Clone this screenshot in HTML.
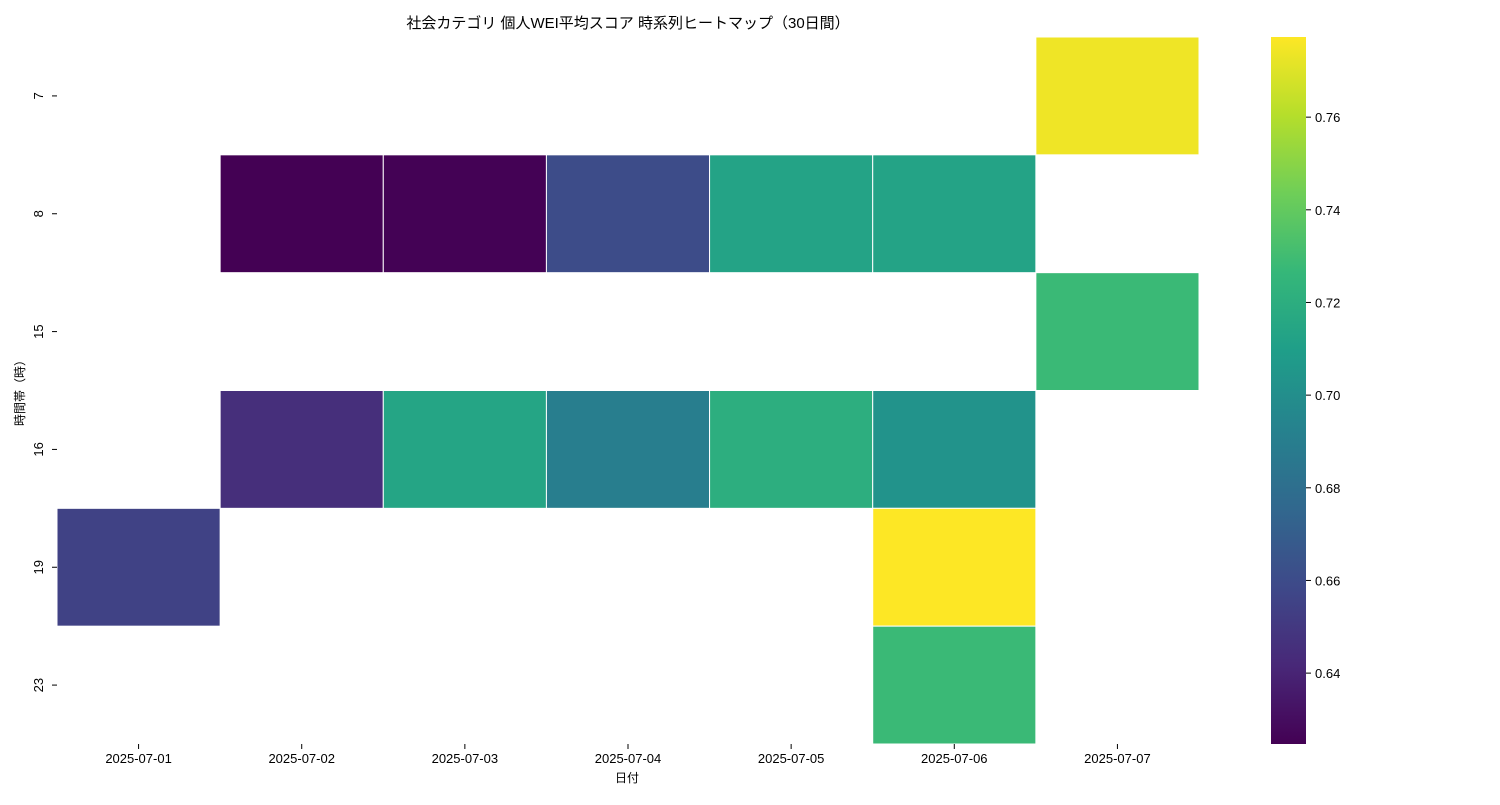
<!DOCTYPE html>
<html><head><meta charset="utf-8"><style>
body{margin:0;background:#fff;}
svg{font-family:"Liberation Sans","Noto Sans CJK JP",sans-serif;}
</style></head><body>
<svg id="chart" width="1500" height="800">
<text x="628" y="28" text-anchor="middle" font-size="15" fill="#000">社会カテゴリ 個人WEI平均スコア 時系列ヒートマップ（30日間）</text>
<text x="627" y="782" text-anchor="middle" font-size="12">日付</text>
<text transform="translate(24,390) rotate(-90)" text-anchor="middle" font-size="12">時間帯（時）</text>
<g id="cells"></g><g id="xt"></g><g id="yt"></g>
<defs><linearGradient id="cg" x1="0" y1="1" x2="0" y2="0" id2="x"></linearGradient></defs>
<rect x="1271" y="37" width="35" height="707" fill="url(#cg)"/>
<g id="ct"></g>
</svg>
<script>
const dates=["2025-07-01","2025-07-02","2025-07-03","2025-07-04","2025-07-05","2025-07-06","2025-07-07"];
const hours=["7","8","15","16","19","23"];
// values[row][col], null = no data
const values=[
[null,null,null,null,null,null,0.774],
[null,0.6247,0.625,0.660,0.713,0.713,null],
[null,null,null,null,null,null,0.728],
[null,0.645,0.714,0.690,0.720,0.703,null],
[0.655,null,null,null,null,0.7773,null],
[null,null,null,null,null,0.728,null]];
const cbTicks=[0.64,0.66,0.68,0.70,0.72,0.74,0.76];
const vmin=0.6247,vmax=0.7773;
const X0=57,X1=1199,Y0=37,Y1=744;
const cw=(X1-X0)/dates.length,ch=(Y1-Y0)/hours.length;
const vir=["#440154","#482878","#3e4989","#31688e","#26828e","#1f9e89","#35b779","#6ece58","#b5de2b","#fde725"];
function hex(h){return [1,3,5].map(i=>parseInt(h.substr(i,2),16));}
function color(v){let t=Math.max(0,Math.min(1,(v-vmin)/(vmax-vmin)))*(vir.length-1);let i=Math.min(Math.floor(t),vir.length-2),f=t-i;const a=hex(vir[i]),b=hex(vir[i+1]);return`rgb(${a.map((c,k)=>Math.round(c+(b[k]-c)*f)).join(",")})`;}
const NS="http://www.w3.org/2000/svg";
function mk(t,at,p){const e=document.createElementNS(NS,t);for(const k in at)e.setAttribute(k,at[k]);p.appendChild(e);return e;}
const cells=document.getElementById("cells");
values.forEach((row,r)=>row.forEach((v,c)=>{if(v==null)return;
const e=mk("rect",{x:X0+c*cw,y:Y0+r*ch,width:cw,height:ch,fill:color(v),stroke:"#fff","stroke-width":1},cells);

}));
const xt=document.getElementById("xt");
dates.forEach((d,i)=>{const x=X0+(i+0.5)*cw;mk("line",{x1:x,x2:x,y1:744,y2:749,stroke:"#000"},xt);
const t=mk("text",{x:x,y:763,"text-anchor":"middle","font-size":13},xt);t.textContent=d;

});
const yt=document.getElementById("yt");
hours.forEach((h,i)=>{const y=Y0+(i+0.5)*ch;mk("line",{x1:52,x2:57,y1:y,y2:y,stroke:"#000"},yt);
const t=mk("text",{transform:`translate(43,${y}) rotate(-90)`,"text-anchor":"middle","font-size":13},yt);t.textContent=h;

});
const g=document.getElementById("cg");
vir.forEach((c,i)=>mk("stop",{offset:(i/(vir.length-1)*100)+"%","stop-color":c},g));
const ct=document.getElementById("ct");
cbTicks.forEach(v=>{const y=Y1-(v-vmin)/(vmax-vmin)*(Y1-Y0);mk("line",{x1:1306,x2:1311,y1:y,y2:y,stroke:"#000"},ct);
const t=mk("text",{x:1315,y:y+5,"font-size":13},ct);t.textContent=v.toFixed(2);

});
</script>
</body></html>
